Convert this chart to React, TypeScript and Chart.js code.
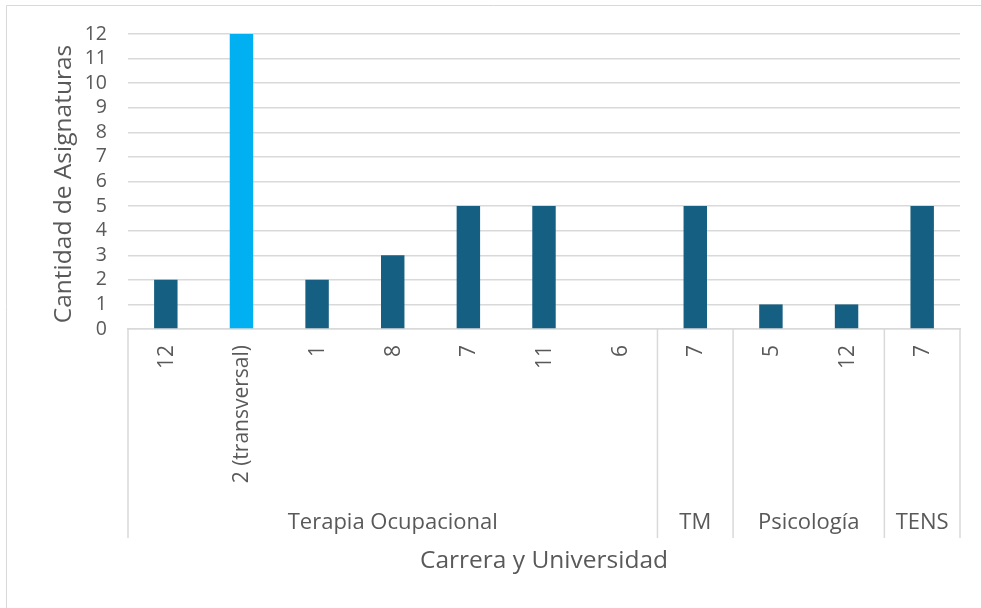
import React, { useEffect, useRef } from "react";
import { Chart, registerables } from "chart.js";

Chart.register(...registerables);

const categories = ["12", "2 (transversal)", "1", "8", "7", "11", "6", "7", "5", "12", "7"];
const values = [2, 12, 2, 3, 5, 5, 0, 5, 1, 1, 5];
const groups = ["Terapia Ocupacional", "TM", "Psicología", "TENS"];
const groupSpans = [7, 1, 2, 1];
const highlightIndex = 1;
const yMax = 12;
const xTitle = "Carrera y Universidad";
const yTitle = "Cantidad de Asignaturas";

const FONT = "'Open Sans', sans-serif";
const TEXT = "#595959";
const GRID = "#d9d9d9";
const DARK = "#156082";
const LIGHT = "#00b0f0";

const multiLevelPlugin = {
  id: "multiLevel",
  beforeDraw(chart: any) {
    const ctx = chart.ctx;
    ctx.save();
    ctx.strokeStyle = GRID;
    ctx.lineWidth = 1;
    ctx.beginPath();
    ctx.moveTo(6.5, 608);
    ctx.lineTo(6.5, 5.5);
    ctx.lineTo(981, 5.5);
    ctx.stroke();
    ctx.restore();
  },
  afterDraw(chart: any) {
    const ctx = chart.ctx;
    const area = chart.chartArea;
    const xs = chart.scales.x;
    const n = categories.length;
    const catW = (area.right - area.left) / n;
    const sepBottom = 538;
    ctx.save();
    ctx.strokeStyle = GRID;
    ctx.lineWidth = 1.5;
    const bounds = [0];
    let acc = 0;
    groupSpans.forEach((s) => {
      acc += s;
      bounds.push(acc);
    });
    bounds.forEach((b) => {
      const x = area.left + b * catW;
      ctx.beginPath();
      ctx.moveTo(x, area.bottom);
      ctx.lineTo(x, sepBottom);
      ctx.stroke();
    });
    ctx.fillStyle = TEXT;
    ctx.font = `21px ${FONT}`;
    categories.forEach((c, i) => {
      const x = xs.getPixelForValue(i);
      ctx.save();
      ctx.translate(x, 345);
      ctx.rotate(-Math.PI / 2);
      ctx.textAlign = "right";
      ctx.textBaseline = "middle";
      ctx.fillText(c, 0, 1);
      ctx.restore();
    });
    ctx.textAlign = "center";
    ctx.textBaseline = "middle";
    ctx.font = `22px ${FONT}`;
    groups.forEach((g, gi) => {
      const x0 = area.left + bounds[gi] * catW;
      const x1 = area.left + bounds[gi + 1] * catW;
      ctx.fillText(g, (x0 + x1) / 2, 523);
    });
    ctx.font = `24.5px ${FONT}`;
    ctx.fillText(xTitle, (area.left + area.right) / 2, 561);
    ctx.save();
    ctx.translate(64, 184);
    ctx.rotate(-Math.PI / 2);
    ctx.fillText(yTitle, 0, 0);
    ctx.restore();
    ctx.restore();
  },
};

export default function App() {
  const ref = useRef<HTMLCanvasElement>(null);
  useEffect(() => {
    if (!ref.current) return;
    const colors = values.map((_, i) => (i === highlightIndex ? LIGHT : DARK));
    const chart = new Chart(ref.current, {
      type: "bar",
      data: {
        labels: categories,
        datasets: [
          {
            data: values,
            backgroundColor: colors,
            borderWidth: 0,
            categoryPercentage: 1,
            barPercentage: 0.31,
          },
        ],
      },
      options: {
        animation: false,
        responsive: false,
        events: [],
        layout: { padding: { top: 34, right: 21, left: 0, bottom: 0 } },
        plugins: { legend: { display: false }, tooltip: { enabled: false } },
        scales: {
          x: {
            grid: { display: false },
            border: { display: true, color: GRID, width: 1.5 },
            ticks: { display: false },
            afterFit: (s: any) => {
              s.height = 279;
            },
          },
          y: {
            min: 0,
            max: yMax,
            grid: { color: GRID, lineWidth: 1.5, drawTicks: false },
            border: { display: false },
            ticks: {
              stepSize: 1,
              autoSkip: false,
              padding: 21,
              color: TEXT,
              font: { family: FONT, size: 19.5 },
            },
            afterFit: (s: any) => {
              s.width = 128;
            },
          },
        },
      },
      plugins: [multiLevelPlugin],
    });
    return () => chart.destroy();
  }, []);
  return (
    <div style={{ position: "absolute", left: 0, top: 0, width: 981, height: 608, background: "#fff" }}>
      <canvas ref={ref} width={981} height={608} />
    </div>
  );
}
